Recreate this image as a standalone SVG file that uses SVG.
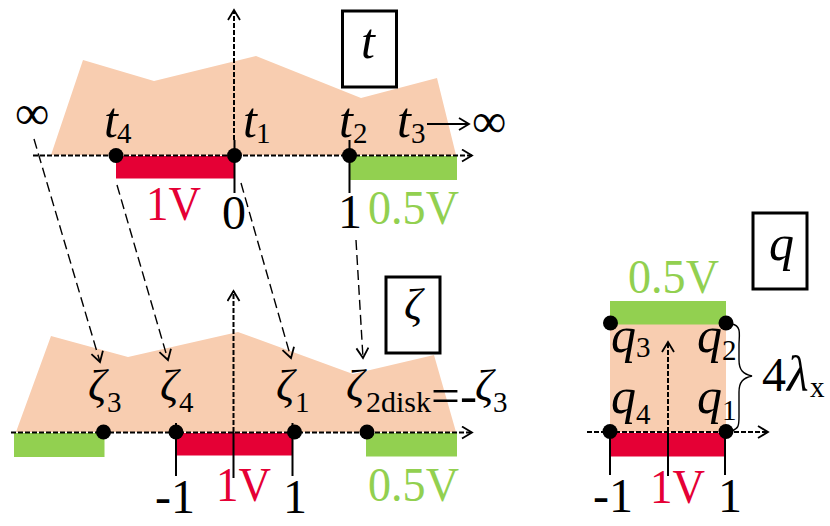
<svg xmlns="http://www.w3.org/2000/svg" width="830" height="526" viewBox="0 0 830 526">
<defs>
<style>
text{font-family:"Liberation Serif","Times New Roman",serif;font-size:48px;fill:#000}
.i{font-style:italic;font-size:50px}
.z{font-style:italic;font-size:45px}
.s{font-size:29px}
.r{fill:#e50035}
.g{fill:#92d050}
.region{fill:#f8cdb0}
.red{fill:#e50035}
.grn{fill:#92d050}
.box{fill:#fff;stroke:#000;stroke-width:3}
.ax{fill:none;stroke:#000;stroke-width:2;stroke-dasharray:5 2}
.map{fill:none;stroke:#000;stroke-width:1.4;stroke-dasharray:10 5}
.sol{fill:none;stroke:#000;stroke-width:2}
.dot{fill:#000}
</style>
<marker id="a" markerUnits="userSpaceOnUse" markerWidth="18" markerHeight="18" refX="11" refY="7" orient="auto"><path d="M1 1L11 7L1 13" fill="none" stroke="#000" stroke-width="1.8"/></marker>
</defs>
<g id="region-t">
<polygon class="region" points="51,155 83,60 154,81 256,56 361,98 437,78 456,155"/>
<rect class="red" x="116" y="156" width="118" height="22.500"/>
<rect class="grn" x="350" y="156" width="107" height="24"/>
</g>
<g id="region-zeta">
<polygon class="region" points="16,432 51,336 128,357 238,332 353,374 434,355 456,432"/>
<rect class="grn" x="14" y="433" width="90.500" height="24"/>
<rect class="red" x="177" y="433" width="116" height="22.500"/>
<rect class="grn" x="366" y="433" width="91" height="23.500"/>
</g>
<g id="region-q">
<rect class="region" x="610" y="324" width="116" height="108"/>
<rect class="grn" x="610" y="301" width="116" height="23.500"/>
<rect class="red" x="610" y="433" width="116" height="23.500"/>
</g>
<g id="connectors">
<path class="ax" d="M33 155.500H472" marker-end="url(#a)"/>
<path class="ax" d="M234 140V10" marker-end="url(#a)"/>
<path class="sol" d="M234.500 140V193M349.500 140V193"/>
<path class="ax" d="M11 432.500H472" marker-end="url(#a)"/>
<path class="ax" d="M233.500 432V291" marker-end="url(#a)"/>
<path class="sol" d="M233.500 432V478M176 423V476M292.500 423V476"/>
<path class="ax" d="M587 432H768" marker-end="url(#a)"/>
<path class="ax" d="M668 432V342" marker-end="url(#a)"/>
<path class="sol" d="M668 432V476M610 432V475M725 432V475"/>
<path class="map" d="M34 139L100 362" marker-end="url(#a)"/>
<path class="map" d="M117 185L168 360" marker-end="url(#a)"/>
<path class="map" d="M241 183L291 358" marker-end="url(#a)"/>
<path class="map" d="M356 240L363 358" marker-end="url(#a)"/>
<path d="M427 124H469" fill="none" stroke="#000" stroke-width="2" marker-end="url(#a)"/>
<path class="sol" style="stroke-width:1.4" d="M732 324C742 326 739 335 739 345V360C739 370 743 374 752 376C743 378 739 382 739 392V417C739 427 738 428 732 431"/>
</g>
<g id="t-box"><rect class="box" x="342.500" y="11" width="54" height="76"/><text class="i" x="361" y="58">t</text></g>
<g id="zeta-box"><rect class="box" x="386" y="277" width="54" height="76"/><text class="z" x="404" y="319">ζ</text></g>
<g id="q-box"><rect class="box" x="753" y="213" width="54" height="76"/><text class="i" x="769" y="260">q</text></g>
<g id="points-t">
<circle class="dot" cx="116" cy="155.500" r="7.500"/><circle class="dot" cx="234.500" cy="155.500" r="7.500"/><circle class="dot" cx="349.500" cy="155.500" r="7.500"/>
<text x="15" y="129">∞</text>
<text class="i" x="104" y="137">t</text><text class="s" x="117" y="143">4</text>
<text class="i" x="243" y="137">t</text><text class="s" x="256" y="143">1</text>
<text class="i" x="339" y="137">t</text><text class="s" x="353" y="143">2</text>
<text class="i" x="397" y="137">t</text><text class="s" x="411" y="143">3</text>
<text x="472" y="137">∞</text>
<text class="r" x="146" y="220" textLength="55" lengthAdjust="spacingAndGlyphs">1V</text>
<text x="222" y="229">0</text>
<text x="338" y="228">1</text>
<text class="g" x="368" y="224" textLength="91" lengthAdjust="spacingAndGlyphs">0.5V</text>
</g>
<g id="points-zeta">
<circle class="dot" cx="103.500" cy="432" r="7.500"/><circle class="dot" cx="176" cy="432" r="7.500"/><circle class="dot" cx="294.500" cy="432" r="7.500"/><circle class="dot" cx="367" cy="432" r="7.500"/>
<text class="z" x="88" y="400">ζ</text><text class="s" x="107" y="412">3</text>
<text class="z" x="160" y="400">ζ</text><text class="s" x="179" y="412">4</text>
<text class="z" x="276" y="400">ζ</text><text class="s" x="295" y="412">1</text>
<text class="z" x="346" y="400">ζ</text><text class="s" x="366" y="412" style="font-size:30px">2disk</text>
<text x="431" y="412" textLength="46" lengthAdjust="spacingAndGlyphs">=-</text><text class="z" x="475" y="400">ζ</text><text class="s" x="493" y="412">3</text>
<text x="155" y="513">-1</text>
<text class="r" x="216" y="501" textLength="55" lengthAdjust="spacingAndGlyphs">1V</text>
<text x="283" y="513">1</text>
<text class="g" x="368" y="501" textLength="91" lengthAdjust="spacingAndGlyphs">0.5V</text>
</g>
<g id="points-q">
<circle class="dot" cx="610.500" cy="323" r="7.500"/><circle class="dot" cx="726" cy="323" r="7.500"/><circle class="dot" cx="610" cy="431.500" r="7.500"/><circle class="dot" cx="726" cy="431.500" r="7.500"/>
<text class="g" x="628" y="293" textLength="91" lengthAdjust="spacingAndGlyphs">0.5V</text>
<text class="i" x="611" y="352">q</text><text class="s" x="636" y="357">3</text>
<text class="i" x="697" y="352">q</text><text class="s" x="722" y="360">2</text>
<text class="i" x="611" y="413">q</text><text class="s" x="636" y="424">4</text>
<text class="i" x="697" y="413">q</text><text class="s" x="722" y="420">1</text>
<text x="762" y="391">4</text><text class="i" x="787" y="391">λ</text><text class="s" x="810" y="397">x</text>
<text x="593" y="512">-1</text>
<text class="r" x="650" y="503" textLength="55" lengthAdjust="spacingAndGlyphs">1V</text>
<text x="718" y="512">1</text>
</g>
</svg>
